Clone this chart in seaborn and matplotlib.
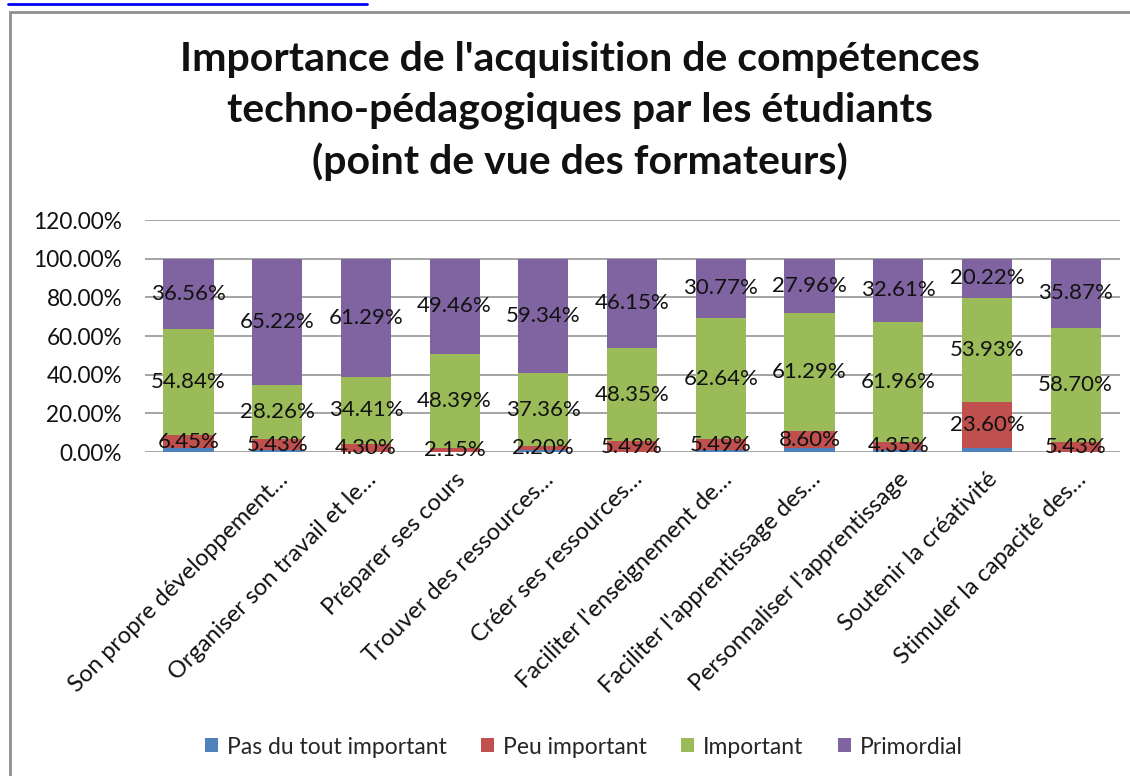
import numpy as np
import pandas as pd
import matplotlib
matplotlib.use("Agg")
import matplotlib.pyplot as plt
from matplotlib.patches import Patch, Rectangle
from matplotlib.lines import Line2D
import seaborn as sns

# categories (first bar has no visible label in the source chart)
categories = [
    "",
    "Son propre développement…",
    "Organiser son travail et le…",
    "Préparer ses cours",
    "Trouver des ressources…",
    "Créer ses ressources…",
    "Faciliter l'enseignement de…",
    "Faciliter l'apprentissage des…",
    "Personnaliser l'apprentissage",
    "Soutenir la créativité",
    "Stimuler la capacité des…",
]

series_names = ["Pas du tout important", "Peu important", "Important", "Primordial"]

pas_du_tout = [2.15, 1.09, 0.00, 0.00, 1.10, 0.00, 1.10, 2.15, 1.08, 2.25, 0.00]
peu_important = [6.45, 5.43, 4.30, 2.15, 2.20, 5.49, 5.49, 8.60, 4.35, 23.60, 5.43]
important = [54.84, 28.26, 34.41, 48.39, 37.36, 48.35, 62.64, 61.29, 61.96, 53.93, 58.70]
primordial = [36.56, 65.22, 61.29, 49.46, 59.34, 46.15, 30.77, 27.96, 32.61, 20.22, 35.87]

colors = ["#4F81BD", "#C0504D", "#9BBB59", "#8064A2"]

y_ticks = [0, 20, 40, 60, 80, 100, 120]

title = ("Importance de l'acquisition de compétences\n"
         "techno-pédagogiques par les étudiants\n"
         "(point de vue des formateurs)")

# table with cumulative tops for the stacked bars
df = pd.DataFrame({
    "categorie": categories,
    series_names[0]: pas_du_tout,
    series_names[1]: peu_important,
    series_names[2]: important,
    series_names[3]: primordial,
})
cum = df[series_names].cumsum(axis=1)

sns.set_theme(style="white")
plt.rcParams["font.family"] = ["Lato", "DejaVu Sans"]

fig = plt.figure(figsize=(11.3, 7.76), dpi=100)
ax = fig.add_axes([145 / 1130, 1 - 452 / 776, 975 / 1130, 232 / 776])

# draw from the top segment down so each lower series covers the one above
for name, color in reversed(list(zip(series_names, colors))):
    sns.barplot(x=df["categorie"], y=cum[name], order=categories, color=color,
                saturation=1, width=0.565, linewidth=0, errorbar=None, ax=ax,
                zorder=2)

# data labels centered in each segment (not for the first series)
for i in range(len(categories)):
    for name in series_names[1:]:
        val = df.loc[i, name]
        top = cum.loc[i, name]
        ax.text(i, top - val / 2, f"{val:.2f}%", ha="center", va="center",
                fontsize=16, color="#111111", zorder=4)

ax.set_ylim(0, 120)
ax.set_xlim(-0.49, len(categories) - 0.5)
ax.set_yticks(y_ticks)
ax.set_yticklabels([f"{t:.2f}%" for t in y_ticks], fontsize=16.3, color="#111111")
ax.yaxis.grid(True, color="#8c8c8c", linewidth=1.1, zorder=0)
ax.set_axisbelow(True)
for s in ax.spines.values():
    s.set_visible(False)
ax.set_xlabel("")
ax.set_ylabel("")
ax.tick_params(axis="y", length=0, pad=16.5)
ax.tick_params(axis="x", length=0, pad=12)
plt.setp(ax.get_xticklabels(), rotation=45, ha="right", va="top",
         rotation_mode="anchor", fontsize=17, color="#111111")

fig.text(0.513, 1 - 111 / 776, title, ha="center", va="center",
         fontsize=29.5, fontweight="bold", linespacing=1.45, color="#111111")

handles = [Patch(facecolor=c, edgecolor="none") for c in colors]
fig.legend(handles, series_names, loc="center", ncol=4,
           bbox_to_anchor=(584 / 1130, 1 - 747 / 776), frameon=False,
           fontsize=16.5, handlelength=0.55, handleheight=0.55,
           handletextpad=0.4, columnspacing=1.5)

# outer chart frame and the cut-off link at the very top
fig.patches.append(Rectangle((10 / 1130, -0.1), 1.2, 1 - 12 / 776 + 0.1,
                             transform=fig.transFigure, fill=False,
                             edgecolor="#8f8f8f", linewidth=2))
fig.add_artist(Line2D([8 / 1130, 367 / 1130], [1 - 4 / 776, 1 - 4 / 776],
                      transform=fig.transFigure, color="#0000ff", linewidth=2))

fig.savefig("out.png", dpi=100)
